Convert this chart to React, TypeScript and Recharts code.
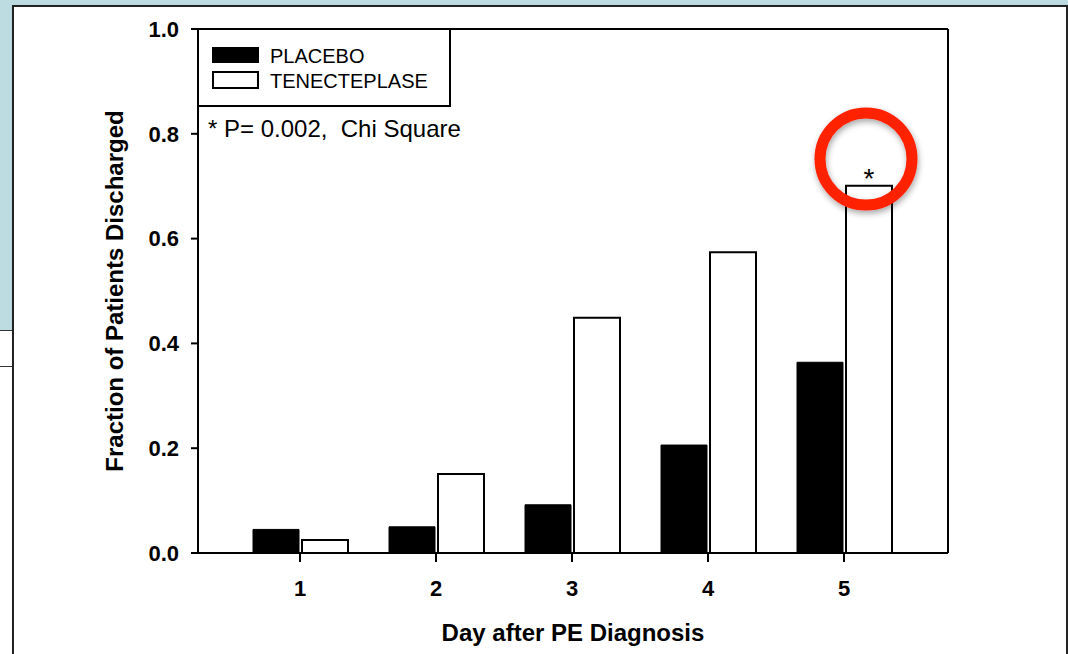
import { BarChart, Bar, XAxis, YAxis, LabelList } from "recharts";

const days = ["1", "2", "3", "4", "5"];
const placebo = [0.045, 0.05, 0.092, 0.206, 0.364];
const tenecteplase = [0.025, 0.151, 0.449, 0.574, 0.701];
const significance = ["", "", "", "", "*"];
const yTicks = [0, 0.2, 0.4, 0.6, 0.8, 1.0];

const data = days.map((day, i) => ({
  day,
  placebo: placebo[i],
  tenecteplase: tenecteplase[i],
  sig: significance[i],
}));

const font = "'Liberation Sans', Arial, sans-serif";

function LegendBox() {
  return (
    <div
      style={{
        position: "absolute",
        left: 198,
        top: 29,
        width: 253,
        height: 78,
        boxSizing: "border-box",
        borderRight: "2px solid #000",
        borderBottom: "2px solid #000",
        fontFamily: font,
        fontSize: 20,
        lineHeight: "20px",
        color: "#000",
      }}
    >
      <div style={{ position: "absolute", left: 14, top: 18, width: 47, height: 16, background: "#000" }} />
      <div style={{ position: "absolute", left: 72, top: 17 }}>PLACEBO</div>
      <div
        style={{
          position: "absolute",
          left: 14,
          top: 42,
          width: 47,
          height: 18,
          boxSizing: "border-box",
          border: "2px solid #000",
          background: "#fff",
        }}
      />
      <div style={{ position: "absolute", left: 72, top: 42 }}>TENECTEPLASE</div>
    </div>
  );
}

export default function App() {
  return (
    <div
      style={{
        position: "absolute",
        left: 0,
        top: 0,
        width: 1068,
        height: 654,
        overflow: "hidden",
        background: "#bddce2",
      }}
    >
      {/* window behind, lower left */}
      <div
        style={{
          position: "absolute",
          left: -4,
          top: 330,
          width: 30,
          height: 400,
          background: "#fff",
          borderTop: "1px solid #333",
        }}
      >
        <div style={{ position: "absolute", left: 0, top: 35, width: 30, borderTop: "1px solid #333" }} />
      </div>
      {/* slide panel */}
      <div
        style={{
          position: "absolute",
          left: 12,
          top: 5,
          width: 1052,
          height: 700,
          background: "#fff",
          border: "2px solid #222",
          boxShadow: "1px 1px 2px rgba(0,0,0,0.4)",
        }}
      />
      <div style={{ position: "absolute", left: 0, top: 0 }}>
        <BarChart
          width={1068}
          height={654}
          data={data}
          margin={{ top: 28, right: 119, bottom: 41, left: 118 }}
          barCategoryGap={20}
          barGap={3}
        >
          <XAxis
            dataKey="day"
            padding={{ left: 34, right: 36 }}
            axisLine={{ stroke: "#000", strokeWidth: 2 }}
            tickLine={{ stroke: "#000", strokeWidth: 2 }}
            tickSize={9}
            tickMargin={18}
            height={60}
            tick={{ fill: "#000", fontSize: 22, fontWeight: "bold", fontFamily: font }}
            label={{
              value: "Day after PE Diagnosis",
              position: "insideBottom",
              offset: -28,
              fill: "#000",
              fontSize: 24,
              fontWeight: "bold",
              fontFamily: font,
            }}
          />
          <XAxis
            xAxisId="top"
            orientation="top"
            dataKey="day"
            height={1}
            tick={false}
            tickLine={false}
            axisLine={{ stroke: "#000", strokeWidth: 2 }}
          />
          <YAxis
            domain={[0, 1]}
            ticks={yTicks}
            tickFormatter={(v: number) => v.toFixed(1)}
            width={80}
            axisLine={{ stroke: "#000", strokeWidth: 2 }}
            tickLine={{ stroke: "#000", strokeWidth: 2 }}
            tickSize={7}
            tickMargin={12}
            tick={{ fill: "#000", fontSize: 22, fontWeight: "bold", fontFamily: font }}
            label={{
              value: "Fraction of Patients Discharged",
              angle: -90,
              position: "insideLeft",
              offset: -4,
              fill: "#000",
              fontSize: 24,
              fontWeight: "bold",
              fontFamily: font,
              style: { textAnchor: "middle" },
            }}
          />
          <YAxis
            yAxisId="right"
            orientation="right"
            domain={[0, 1]}
            width={1}
            tick={false}
            tickLine={false}
            axisLine={{ stroke: "#000", strokeWidth: 2 }}
          />
          <Bar
            dataKey="placebo"
            name="PLACEBO"
            fill="#000"
            stroke="#000"
            strokeWidth={1}
            barSize={46}
            isAnimationActive={false}
          />
          <Bar
            dataKey="tenecteplase"
            name="TENECTEPLASE"
            fill="#fff"
            stroke="#000"
            strokeWidth={2}
            barSize={46}
            isAnimationActive={false}
          >
            <LabelList
              dataKey="sig"
              position="top"
              offset={-2}
              fill="#000"
              fontSize={28}
              fontFamily={font}
            />
          </Bar>
        </BarChart>
      </div>
      <LegendBox />
      <div
        style={{
          position: "absolute",
          left: 208,
          top: 117,
          fontFamily: font,
          fontSize: 24,
          lineHeight: "24px",
          color: "#000",
          whiteSpace: "pre",
        }}
      >
        {"* P= 0.002,  Chi Square"}
      </div>
      <svg
        width={1068}
        height={654}
        style={{ position: "absolute", left: 0, top: 0, pointerEvents: "none" }}
      >
        <defs>
          <filter id="sh" x="-30%" y="-30%" width="160%" height="160%">
            <feDropShadow dx="1" dy="3" stdDeviation="3" floodColor="#000" floodOpacity="0.35" />
          </filter>
        </defs>
        <circle cx={866} cy={159} r={46} fill="none" stroke="#ff2200" strokeWidth={11} filter="url(#sh)" />
      </svg>
    </div>
  );
}
